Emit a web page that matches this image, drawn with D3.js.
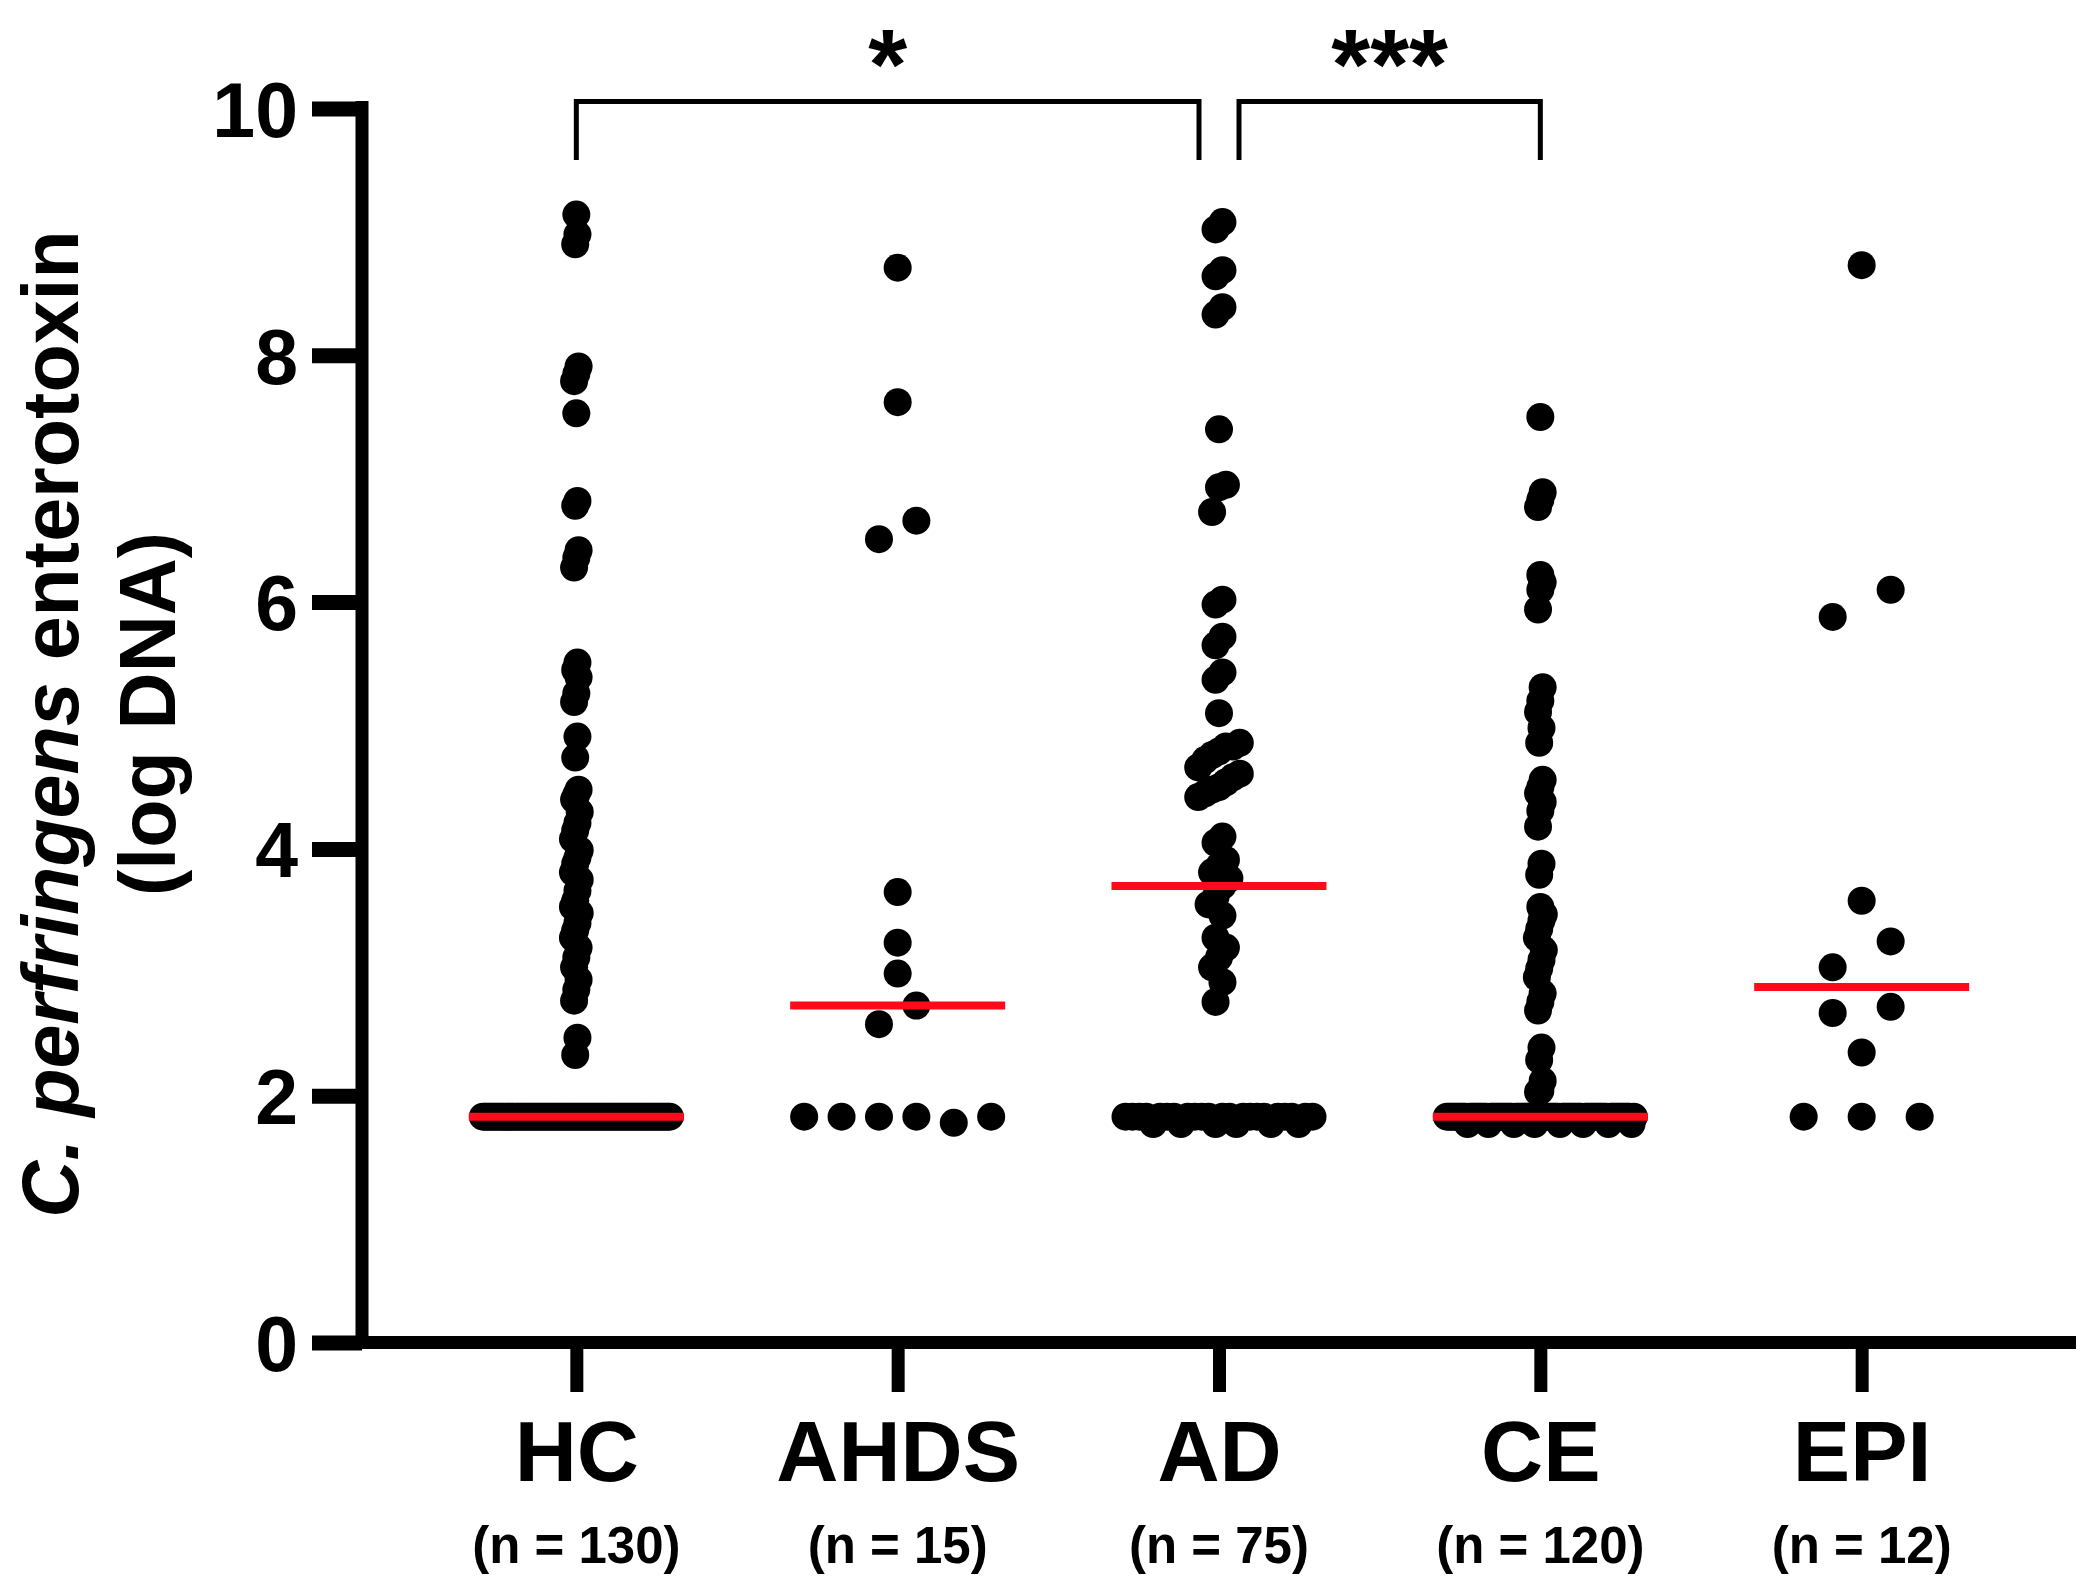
<!DOCTYPE html>
<html>
<head>
<meta charset="utf-8">
<script src="https://cdn.jsdelivr.net/npm/d3@7"></script>
<style>
	body { margin: 0; background: #fff; }
	svg text { font-family: "Liberation Sans", Arial, sans-serif; font-weight: bold; fill: #000; }
</style>
</head>
<body>
<div id="chart"></div>
<script>
// Values (log DNA, one entry per subject)
const categories = ["HC", "AHDS", "AD", "CE", "EPI"];
const groupSizes = ["(n = 130)", "(n = 15)", "(n = 75)", "(n = 120)", "(n = 12)"];
const yTicks = [0, 2, 4, 6, 8, 10];

const hcValues = [
	9.14, 8.98, 8.90, 7.91, 7.85, 7.79, 7.53, 6.82, 6.78, 6.42, 6.36, 6.28,
	5.51, 5.45, 5.39, 5.26, 5.19, 4.91, 4.74, 4.48, 4.44, 4.40, 4.30, 4.21,
	4.15, 4.08, 3.99, 3.93, 3.88, 3.81, 3.75, 3.66, 3.58, 3.53, 3.48, 3.40,
	3.34, 3.28, 3.20, 3.12, 3.04, 2.94, 2.86, 2.77, 2.47, 2.33,
	1.83, 1.83, 1.83, 1.83, 1.83, 1.83, 1.83, 1.83, 1.83, 1.83, 1.83, 1.83,
	1.83, 1.83, 1.83, 1.83, 1.83, 1.83, 1.83, 1.83, 1.83, 1.83, 1.83, 1.83,
	1.83, 1.83, 1.83, 1.83, 1.83, 1.83, 1.83, 1.83, 1.83, 1.83, 1.83, 1.83,
	1.83, 1.83, 1.83, 1.83, 1.83, 1.83, 1.83, 1.83, 1.83, 1.83, 1.83, 1.83,
	1.83, 1.83, 1.83, 1.83, 1.83, 1.83, 1.83, 1.83, 1.83, 1.83, 1.83, 1.83,
	1.83, 1.83, 1.83, 1.83, 1.83, 1.83, 1.83, 1.83, 1.83, 1.83, 1.83, 1.83,
	1.83, 1.83, 1.83, 1.83, 1.83, 1.83, 1.83, 1.83, 1.83, 1.83, 1.83, 1.83
];

const ahdsValues = [
	8.71, 7.62, 6.66, 6.51, 3.65, 3.24, 2.99, 2.73, 2.58,
	1.83, 1.78, 1.83, 1.83, 1.83, 1.83
];

const adValues = [
	9.08, 9.02, 8.69, 8.64, 8.39, 8.33, 7.40, 6.95, 6.93, 6.73, 6.02, 5.98,
	5.72, 5.65, 5.43, 5.37, 5.10, 4.86, 4.83, 4.83, 4.79, 4.76, 4.72, 4.66,
	4.61, 4.58, 4.54, 4.50, 4.48, 4.45, 4.42, 4.10, 4.05, 3.91, 3.86, 3.81,
	3.76, 3.70, 3.61, 3.55, 3.46, 3.28, 3.20, 3.12, 3.04, 2.92, 2.76,
	1.83, 1.83, 1.77, 1.83, 1.83, 1.83, 1.77, 1.83, 1.83, 1.83, 1.83, 1.77,
	1.83, 1.83, 1.77, 1.83, 1.83, 1.83, 1.83, 1.77, 1.83, 1.83, 1.83, 1.77,
	1.83, 1.83, 1.83, 1.83
];

const ceValues = [
	7.50, 6.89, 6.83, 6.77, 6.22, 6.16, 6.10, 5.94, 5.31, 5.20, 5.11, 4.98,
	4.86, 4.56, 4.50, 4.45, 4.38, 4.31, 4.18, 3.88, 3.79, 3.53, 3.47, 3.42,
	3.35, 3.28, 3.18, 3.10, 3.03, 2.96, 2.83, 2.76, 2.69, 2.39, 2.29, 2.12,
	2.04, 2.03,
	1.83, 1.77, 1.83, 1.83, 1.83, 1.83, 1.83, 1.83, 1.83, 1.83,
	1.83, 1.77, 1.83, 1.83, 1.83, 1.83, 1.83, 1.83, 1.83, 1.83,
	1.83, 1.83, 1.77, 1.83, 1.83, 1.83, 1.83, 1.83, 1.83, 1.83,
	1.83, 1.83, 1.77, 1.83, 1.83, 1.83, 1.83, 1.83, 1.83, 1.83,
	1.83, 1.83, 1.83, 1.77, 1.83, 1.83, 1.83, 1.83, 1.83, 1.83,
	1.83, 1.83, 1.77, 1.83, 1.83, 1.83, 1.83, 1.83, 1.83, 1.83,
	1.83, 1.83, 1.83, 1.77, 1.83, 1.83, 1.83, 1.83, 1.83, 1.83,
	1.83, 1.83, 1.77, 1.83, 1.83, 1.83, 1.83, 1.83, 1.83, 1.83, 1.83, 1.83
];

const epiValues = [
	8.73, 6.10, 5.88, 3.58, 3.25, 3.04, 2.72, 2.67, 2.35,
	1.83, 1.83, 1.83
];

const groupValues = [hcValues, ahdsValues, adValues, ceValues, epiValues];

// significance brackets: [from, to, label]
const comparisons = [
	["HC", "AD", "*"],
	["AD", "CE", "***"]
];

// ---- layout ----
const width = 2094, height = 1593;
const plotLeft = 362, plotRight = 2076, plotTop = 108.5, plotBottom = 1342.5;
const axisWidth = 13, tickLen = 50;
const dotR = 14, rowWidth = 187, maxGap = 58;   // swarm settings
const medianHalf = 107.5;

const svg = d3.select("#chart").append("svg")
	.attr("width", width).attr("height", height);

const y = d3.scaleLinear([0, 10], [plotBottom, plotTop]);
const x = d3.scalePoint(categories, [plotLeft, plotRight]).padding(0.667);

// Column scatter: points closer than one diameter share a row and spread sideways
function swarm(values, cx) {
	const pts = values.map((v, i) => ({ v, i, y: y(v) }));
	const sorted = pts.slice().sort((a, b) => a.v - b.v);
	const rows = [];
	let row = null;
	for (const p of sorted) {
		if (row && row.y0 - p.y < 2 * dotR) row.pts.push(p);
		else { row = { y0: p.y, pts: [p] }; rows.push(row); }
	}
	const widest = d3.max(rows, r => r.pts.length);
	const gap = widest > 1 ? Math.min(maxGap, rowWidth / (widest - 1)) : maxGap;
	rows.forEach(r => {
		r.pts.sort((a, b) => b.i - a.i);
		r.pts.forEach((p, k) => p.x = cx + (k - (r.pts.length - 1) / 2) * gap);
	});
	return pts;
}

// Axes
const axisY = svg.append("g")
	.attr("transform", `translate(${plotLeft},0)`)
	.call(d3.axisLeft(y).tickValues(yTicks).tickSize(tickLen).tickSizeOuter(0).tickPadding(14));
axisY.select(".domain").remove();
axisY.selectAll(".tick line").attr("stroke", "#000").attr("stroke-width", 15);
axisY.selectAll(".tick text").attr("font-size", 77).attr("dy", "0.36em");

svg.append("line")
	.attr("x1", plotLeft).attr("x2", plotLeft)
	.attr("y1", plotTop - axisWidth / 2 - 1).attr("y2", plotBottom + axisWidth / 2)
	.attr("stroke", "#000").attr("stroke-width", axisWidth);

const axisX = svg.append("g")
	.attr("transform", `translate(0,${plotBottom})`)
	.call(d3.axisBottom(x).tickSize(49.5).tickSizeOuter(0).tickPadding(28));
axisX.select(".domain").remove();
axisX.selectAll(".tick line").attr("stroke", "#000").attr("stroke-width", axisWidth);
axisX.selectAll(".tick text").attr("font-size", 86);

svg.append("line")
	.attr("x1", plotLeft - tickLen).attr("x2", plotRight)
	.attr("y1", plotBottom).attr("y2", plotBottom)
	.attr("stroke", "#000").attr("stroke-width", axisWidth);

svg.append("g").selectAll("text")
	.data(categories)
	.join("text")
	.attr("x", d => x(d))
	.attr("y", 1563)
	.attr("text-anchor", "middle")
	.attr("font-size", 51)
	.text((d, i) => groupSizes[i]);

// Y title
const title1 = svg.append("text")
	.attr("transform", `translate(78,724) rotate(-90)`)
	.attr("text-anchor", "middle").attr("font-size", 79);
title1.append("tspan").attr("font-style", "italic").text("C. perfringens");
title1.append("tspan").text(" enterotoxin");
svg.append("text")
	.attr("transform", `translate(175,714) rotate(-90)`)
	.attr("text-anchor", "middle").attr("font-size", 79)
	.text("(log DNA)");

// Dots
const dots = svg.append("g");
categories.forEach((c, gi) => {
	dots.append("g").selectAll("circle")
		.data(swarm(groupValues[gi], x(c)))
		.join("circle")
		.attr("cx", d => d.x)
		.attr("cy", d => d.y)
		.attr("r", dotR)
		.attr("fill", "#000");
});

// Medians
svg.append("g").selectAll("line")
	.data(categories.map((c, gi) => ({ c, m: d3.median(groupValues[gi]) })))
	.join("line")
	.attr("x1", d => x(d.c) - medianHalf)
	.attr("x2", d => x(d.c) + medianHalf)
	.attr("y1", d => y(d.m)).attr("y2", d => y(d.m))
	.attr("stroke", "#ff0a1a").attr("stroke-width", 8);

// Significance brackets
const bracketTop = 101.5, bracketLeg = 160, bracketInset = 20;
const brackets = svg.append("g");
comparisons.forEach(([a, b, label], k) => {
	let x1 = x(a), x2 = x(b);
	if (k > 0) x1 += bracketInset;
	if (k < comparisons.length - 1) x2 -= bracketInset;
	brackets.append("path")
		.attr("d", `M${x1},${bracketLeg}V${bracketTop}H${x2}V${bracketLeg}`)
		.attr("fill", "none").attr("stroke", "#000").attr("stroke-width", 5);
	brackets.append("text")
		.attr("x", (x1 + x2) / 2).attr("y", 99)
		.attr("text-anchor", "middle").attr("font-size", 100)
		.text(label);
});
</script>
</body>
</html>
